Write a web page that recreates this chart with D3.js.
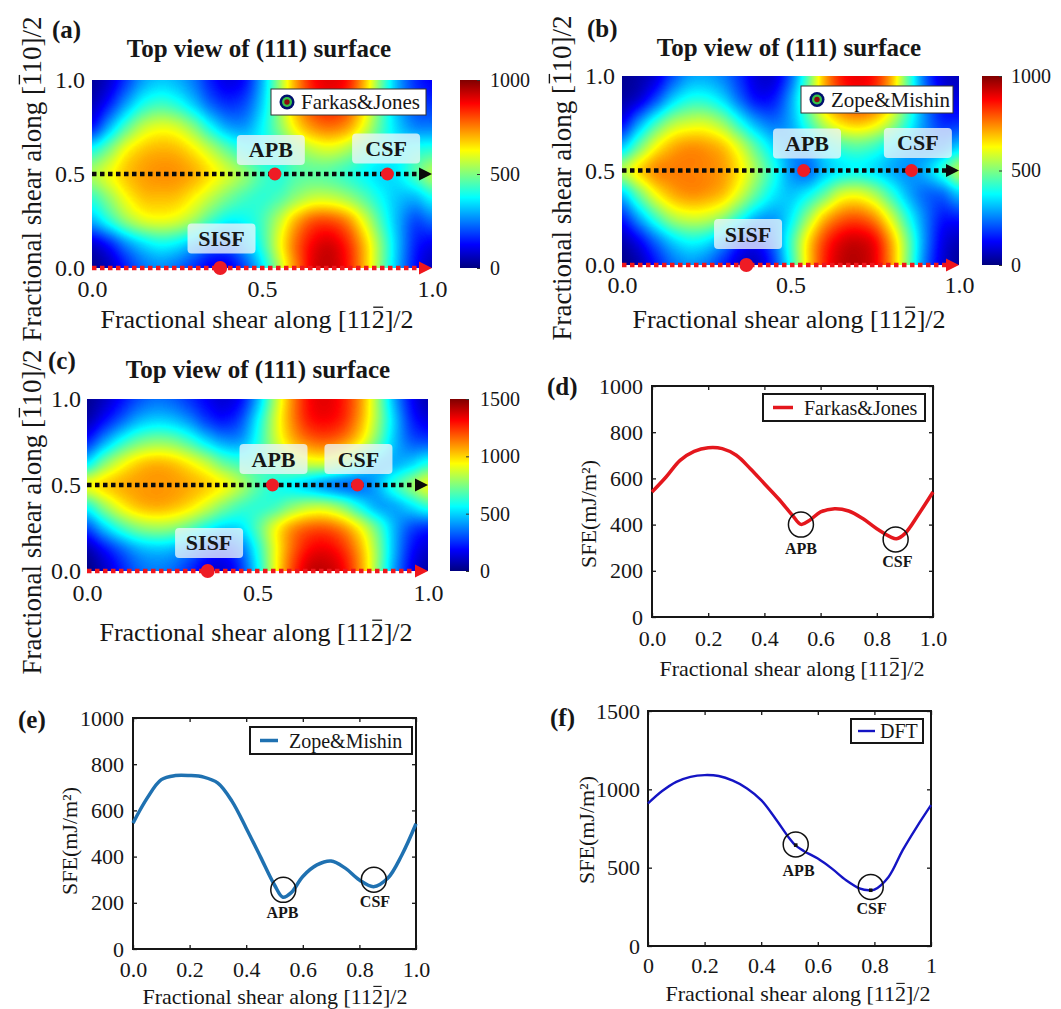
<!DOCTYPE html>
<html><head><meta charset="utf-8">
<script src="https://cdn.jsdelivr.net/npm/d3@7"></script>
<style>
body{margin:0;background:#fff}
svg{display:block}
text{font-family:"Liberation Serif","Times New Roman",serif;fill:#161616}
</style></head>
<body><svg id="fig" width="1061" height="1009"></svg>
<script>
// ---------------- DATA ----------------
const heatX = [0,0.05,0.1,0.15,0.2,0.25,0.3,0.35,0.4,0.45,0.5,0.55,0.6,0.65,0.7,0.75,0.8,0.85,0.9,0.95,1.0];
const heatY = [0,0.125,0.25,0.375,0.5,0.625,0.75,0.875,1.0]; // rows bottom -> top
const heatTicks = [0,0.5,1];

// (a) Farkas&Jones gamma surface (mJ/m^2), rows y=0 .. y=1
const gridFJ = [
 [20,60,150,230,260,230,170,110,110,200,350,550,750,900,930,860,700,500,300,140,60],
 [80,150,260,340,380,360,300,230,220,300,420,600,770,880,910,840,690,500,310,160,110],
 [300,400,510,580,600,580,520,430,370,380,440,560,700,790,800,740,600,440,300,200,230],
 [430,520,620,680,690,680,630,560,490,440,420,450,520,570,570,530,460,380,320,310,380],
 [541,606,678,717,733,729,700,642,577,512,440,411,455,469,459,426,382,346,361,447,541],
 [400,500,620,680,700,690,640,560,470,400,380,420,500,560,580,540,460,400,370,400,420],
 [150,300,450,560,600,580,500,380,290,280,370,500,640,730,760,720,600,450,330,260,250],
 [60,150,280,390,430,400,320,220,170,200,330,520,700,820,860,810,660,470,300,200,170],
 [30,80,180,280,320,300,240,150,100,140,300,520,720,860,900,860,700,480,290,170,120]
];
// (b) Zope&Mishin
const gridZM = [
 [10,50,140,230,270,240,160,80,70,180,400,650,840,930,945,890,720,480,240,90,30],
 [50,120,230,330,380,360,280,170,140,230,420,640,810,900,920,870,700,480,260,110,60],
 [160,290,430,540,580,570,510,400,300,280,360,520,680,770,790,730,580,400,250,150,150],
 [330,480,620,700,730,720,680,580,460,360,320,370,470,580,600,540,420,300,230,230,320],
 [545,653,733,751,751,744,718,639,523,400,277,234,314,364,381,350,299,270,306,407,542],
 [330,480,620,700,730,720,680,580,450,340,280,300,380,440,460,430,360,300,260,260,330],
 [130,280,430,540,580,580,520,400,290,240,290,420,560,650,680,640,540,400,260,170,170],
 [40,90,200,330,400,400,340,230,140,150,280,480,680,800,840,800,660,450,250,130,100],
 [20,40,90,200,280,290,250,170,90,90,220,450,700,850,890,850,700,450,220,90,60]
];
// (c) DFT
const gridDFT = [
 [10,100,220,330,370,340,250,150,130,260,550,900,1200,1380,1400,1320,1100,780,430,180,60],
 [80,200,330,440,480,460,380,280,240,340,600,900,1150,1300,1330,1250,1060,780,460,220,120],
 [300,480,640,750,790,770,690,580,500,520,680,900,1080,1170,1180,1100,930,700,460,300,250],
 [600,780,930,1020,1050,1030,970,870,750,660,630,660,760,830,830,740,580,450,440,520,620],
 [910,989,1048,1080,1091,1085,1055,1006,931,814,686,607,558,494,420,366,360,441,612,761,899],
 [550,750,900,1000,1040,1020,950,850,720,650,650,700,800,860,860,780,620,480,450,500,600],
 [250,430,600,720,770,750,660,530,430,430,600,830,1020,1130,1160,1100,950,720,480,330,300],
 [80,200,330,450,500,480,400,280,220,300,550,850,1100,1270,1310,1250,1070,800,500,250,150],
 [30,100,200,300,350,330,260,180,130,200,450,800,1100,1300,1350,1280,1100,800,450,200,80]
];
const cbTicksAB = [0,500,1000];
const cbTicksC = [0,500,1000,1500];

// fault markers on the gamma surfaces
const faultNames = ["APB","CSF","SISF"];
const faultYs = [0.5,0.5,0];
const faultXa = [0.538,0.869,0.377];
const faultXb = [0.539,0.859,0.369];
const faultXc = [0.544,0.793,0.354];

// line profiles along y = 0.5
const lineXTicks = [0,0.2,0.4,0.6,0.8,1];
const fjX = [0,0.05,0.1,0.15,0.2,0.25,0.3,0.35,0.4,0.45,0.5,0.53,0.56,0.6,0.65,0.7,0.75,0.8,0.85,0.87,0.9,0.95,1];
const fjY = [541,606,678,717,733,729,700,642,577,512,440,401,418,455,469,459,426,382,346,339,361,447,541];
const zmX = [0,0.05,0.1,0.15,0.2,0.25,0.3,0.35,0.4,0.45,0.5,0.53,0.56,0.6,0.65,0.7,0.75,0.8,0.85,0.9,0.95,1];
const zmY = [545,653,733,751,751,744,718,639,523,400,277,224,245,314,364,381,350,299,270,306,407,542];
const dftX = [0,0.05,0.1,0.15,0.2,0.25,0.3,0.35,0.4,0.45,0.5,0.52,0.55,0.6,0.65,0.7,0.75,0.78,0.8,0.85,0.9,0.95,1];
const dftY = [910,989,1048,1080,1091,1085,1055,1006,931,814,686,644,607,558,494,420,366,356,360,441,612,761,899];
const sfeTicks1000 = [0,200,400,600,800,1000];
const sfeTicks1500 = [0,500,1000,1500];
// circled points on the line plots
const annD = {names:["APB","CSF"], cx:[0.530,0.867], cy:[400,336], lx:[0.530,0.873], ly:[296,242]};
const annE = {names:["APB","CSF"], cx:[0.531,0.851], cy:[256,300], lx:[0.528,0.855], ly:[159,205]};
const annF = {names:["APB","CSF"], cx:[0.522,0.787], cy:[648,377], lx:[0.532,0.790], ly:[479,239], dx:[0.522,0.787], dy:[644,356]};

// ---------------- HELPERS ----------------
const svg = d3.select('#fig');
const INK = '#161616';
const jetDomain = [0,0.125,0.375,0.625,0.875,1];
const jetRange = ["#00007f","#0000ff","#00ffff","#ffff00","#ff0000","#7f0000"];
const jet = d3.scaleLinear().domain(jetDomain).range(jetRange).clamp(true);
const LUT = d3.range(256).map(i => { const c = d3.rgb(jet(i/255)); return [c.r,c.g,c.b]; });

function cr(p0,p1,p2,p3,t){ return p1 + 0.5*t*(p2-p0 + t*(2*p0-5*p1+4*p2-p3 + t*(3*(p1-p2)+p3-p0))); }
function sample(grid, fx, fy){
  const ny = grid.length, nx = grid[0].length;
  const ix = Math.min(nx-2, Math.floor(fx)), iy = Math.min(ny-2, Math.floor(fy));
  const tx = fx-ix, ty = fy-iy;
  const g = (j,i) => grid[Math.max(0,Math.min(ny-1,j))][Math.max(0,Math.min(nx-1,i))];
  const r = [];
  for (let m=-1;m<=2;m++) r.push(cr(g(iy+m,ix-1),g(iy+m,ix),g(iy+m,ix+1),g(iy+m,ix+2),tx));
  return cr(r[0],r[1],r[2],r[3],ty);
}
function txt(parent, s, x, y, size, opts={}){
  const t = parent.append('text').attr('x',x).attr('y',y).attr('font-size',size).text(s);
  if (opts.bold) t.attr('font-weight','bold');
  if (opts.anchor) t.attr('text-anchor',opts.anchor);
  return t;
}
function overline(parent, t, idx, size){
  const e = t.node().getExtentOfChar(idx);
  const bl = +t.attr('y');
  const yy = bl - 0.8*size;
  parent.append('line').attr('x1',e.x+e.width*0.12).attr('x2',e.x+e.width*0.88)
    .attr('y1',yy).attr('y2',yy).attr('stroke',INK).attr('stroke-width',Math.max(1,size*0.05));
}
function rotLabel(s, cx, baseX, size, barIdx){
  const g = svg.append('g').attr('transform',`translate(${baseX},${cx}) rotate(-90)`);
  const t = txt(g, s, 0, 0, size, {anchor:'middle'});
  if (barIdx != null) overline(g, t, barIdx, size);
  return g;
}
function xLabel(s, cx, base, size, barIdx){
  const t = txt(svg, s, cx, base, size, {anchor:'middle'});
  if (barIdx != null) overline(svg, t, barIdx, size);
}
const XLAB = "Fractional shear along [112]/2";   // bar over index 26
const YLAB = "Fractional shear along [110]/2";   // bar over index 24
const intFmt = d3.format('d');

// ---------------- HEATMAP PANELS ----------------
function heatPanel(p){
  const g = svg.append('g');
  const xs = d3.scaleLinear([0,1],[p.x0,p.x1]);
  const ys = d3.scaleLinear([0,1],[p.y1,p.y0]);
  const vs = d3.scaleLinear([0,p.vmax],[0,255]).clamp(true);
  const ix = d3.scaleLinear(d3.extent(heatX),[0,heatX.length-1]);
  const iy = d3.scaleLinear(d3.extent(heatY),[0,heatY.length-1]);
  const W = Math.round(p.x1-p.x0), H = Math.round(p.y1-p.y0);
  const cv = document.createElement('canvas'); cv.width=W; cv.height=H;
  const ctx = cv.getContext('2d'); const img = ctx.createImageData(W,H);
  for (let r=0;r<H;r++){
    const fy = iy(ys.invert(p.y0+r+0.5));
    for (let c=0;c<W;c++){
      const v = sample(p.grid, ix(xs.invert(p.x0+c+0.5)), fy);
      const col = LUT[Math.round(vs(v))]; const o=(r*W+c)*4;
      img.data[o]=col[0]; img.data[o+1]=col[1]; img.data[o+2]=col[2]; img.data[o+3]=255;
    }
  }
  ctx.putImageData(img,0,0);
  g.append('image').attr('x',p.x0).attr('y',p.y0).attr('width',W).attr('height',H)
    .attr('preserveAspectRatio','none').attr('href',cv.toDataURL());

  // axes tick labels
  const ya = g.append('g').attr('transform',`translate(${p.x0},0)`)
    .call(d3.axisLeft(ys).tickValues(heatTicks).tickFormat(d3.format('.1f')).tickSize(0).tickPadding(p.yPad));
  const xa = g.append('g').attr('transform',`translate(0,${p.y1})`)
    .call(d3.axisBottom(xs).tickValues(heatTicks).tickFormat(d3.format('.1f')).tickSize(0).tickPadding(p.xPad));
  [ya,xa].forEach(a=>{a.select('.domain').remove(); a.attr('font-family',null).attr('font-size',null);
    a.selectAll('text').attr('font-size',24).attr('fill',INK);});

  // dotted paths with arrows
  const dashLine = (yv, color) => {
    const yy = ys(yv);
    g.append('line').attr('x1',xs(0)).attr('x2',xs(1)-11).attr('y1',yy).attr('y2',yy)
      .attr('stroke',color).attr('stroke-width',4.5).attr('stroke-dasharray','4.5,3.5');
    g.append('path').attr('d',`M${xs(1)},${yy}L${xs(1)-13},${yy-6.5}L${xs(1)-13},${yy+6.5}Z`).attr('fill',color);
  };
  dashLine(0.5,'#0a0a0a');
  dashLine(0,'#f0161c');

  // label boxes
  faultNames.forEach((n,i)=>{
    const bx = xs(p.boxX[i]), by = ys(p.boxY[i]);
    g.append('rect').attr('x',bx-34).attr('y',by-15).attr('width',68).attr('height',30).attr('rx',4)
      .attr('fill','#eef6fa').attr('fill-opacity',0.78);
    txt(g, n, bx, by+7.5, 22, {bold:true, anchor:'middle'});
  });
  // fault points
  faultNames.forEach((n,i)=>{
    g.append('circle').attr('cx',xs(p.fx[i])).attr('cy',ys(faultYs[i])).attr('r', i==2?7:6.5).attr('fill','#ee1c25');
  });

  // legend
  if (p.legend){
    const L = p.legend;
    g.append('rect').attr('x',L.x).attr('y',L.y).attr('width',L.w).attr('height',L.h)
      .attr('fill','#fff').attr('stroke','#333').attr('stroke-width',1);
    const icx = L.x+16, icy = L.y+L.h/2;
    g.append('circle').attr('cx',icx).attr('cy',icy).attr('r',7.5).attr('fill','#00106e');
    g.append('circle').attr('cx',icx).attr('cy',icy).attr('r',5).attr('fill','#36c24a');
    g.append('circle').attr('cx',icx).attr('cy',icy).attr('r',2.7).attr('fill','#8a0d0d');
    txt(g, L.text, L.x+30, L.y+L.h/2+7, 21);
  }

  // colorbar
  const gid = 'jet'+p.id;
  const grad = svg.append('defs').append('linearGradient').attr('id',gid)
    .attr('x1',0).attr('y1',1).attr('x2',0).attr('y2',0);
  jetDomain.forEach((d,i)=>grad.append('stop').attr('offset',d).attr('stop-color',jetRange[i]));
  g.append('rect').attr('x',p.cb0).attr('y',p.y0).attr('width',p.cb1-p.cb0).attr('height',p.y1-p.y0)
    .attr('fill',`url(#${gid})`);
  const cs = d3.scaleLinear([0,p.vmax],[p.y1,p.y0]);
  const ca = g.append('g').attr('transform',`translate(${p.cb1},0)`)
    .call(d3.axisRight(cs).tickValues(p.cbTicks).tickFormat(intFmt).tickSizeInner(-3).tickSizeOuter(0).tickPadding(p.cbPad+3));
  ca.select('.domain').remove(); ca.attr('font-family',null).attr('font-size',null);
  ca.selectAll('line').attr('stroke','#333');
  ca.selectAll('text').attr('font-size',20).attr('fill',INK);

  // titles and labels
  txt(svg, p.tag, p.tagX, p.tagY, 25, {bold:true});
  txt(svg, "Top view of (111) surface", p.titleX, p.titleY, 25, {bold:true, anchor:'middle'});
  xLabel(XLAB, p.xlabX, p.xlabY, 26, 26);
  rotLabel(YLAB, p.ylabC, p.ylabX, 27, 24);
}

heatPanel({id:'a', grid:gridFJ, vmax:1000, x0:92, x1:432, y0:80, y1:268, cb0:460, cb1:480, cbTicks:cbTicksAB, cbPad:7,
  yPad:7, xPad:12, fx:faultXa, boxX:[0.526,0.865,0.381], boxY:[0.628,0.636,0.157],
  legend:{x:271,y:89,w:155,h:26,text:"Farkas&Jones"},
  tag:"(a)", tagX:52, tagY:38, titleX:259, titleY:57, xlabX:257, xlabY:328, ylabC:179, ylabX:41});
heatPanel({id:'b', grid:gridZM, vmax:1000, x0:622, x1:959, y0:76, y1:265, cb0:982, cb1:1002, cbTicks:cbTicksAB, cbPad:6,
  yPad:7, xPad:11, fx:faultXb, boxX:[0.549,0.878,0.374], boxY:[0.643,0.646,0.164],
  legend:{x:801,y:86,w:152,h:27,text:"Zope&Mishin"},
  tag:"(b)", tagX:587, tagY:37, titleX:789, titleY:56, xlabX:789, xlabY:328, ylabC:178, ylabX:571});
heatPanel({id:'c', grid:gridDFT, vmax:1500, x0:87, x1:428, y0:399, y1:571, cb0:450, cb1:469, cbTicks:cbTicksC, cbPad:8,
  yPad:6, xPad:13, fx:faultXc, boxX:[0.547,0.796,0.358], boxY:[0.651,0.651,0.163],
  legend:null,
  tag:"(c)", tagX:48, tagY:369, titleX:258, titleY:378, xlabX:256, xlabY:641, ylabC:512, ylabX:41});

// ---------------- LINE PANELS ----------------
function linePanel(p){
  const g = svg.append('g');
  const xs = d3.scaleLinear([0,1],[p.x0,p.x1]);
  const ys = d3.scaleLinear([0,p.ymax],[p.y1,p.y0]);
  const styleAxis = a => { a.select('.domain').remove(); a.attr('font-family',null).attr('font-size',null);
    a.selectAll('line').attr('stroke',INK).attr('stroke-width',1.3);
    a.selectAll('text').attr('font-size',22).attr('fill',INK); };
  styleAxis(g.append('g').attr('transform',`translate(0,${p.y1})`)
    .call(d3.axisBottom(xs).tickValues(lineXTicks).tickFormat(p.xfmt).tickSizeInner(-4).tickSizeOuter(0).tickPadding(p.xPad)));
  styleAxis(g.append('g').attr('transform',`translate(0,${p.y0})`)
    .call(d3.axisTop(xs).tickValues(lineXTicks).tickFormat('').tickSizeInner(-4).tickSizeOuter(0)));
  styleAxis(g.append('g').attr('transform',`translate(${p.x0},0)`)
    .call(d3.axisLeft(ys).tickValues(p.yt).tickFormat(intFmt).tickSizeInner(-4).tickSizeOuter(0).tickPadding(p.yPad)));
  styleAxis(g.append('g').attr('transform',`translate(${p.x1},0)`)
    .call(d3.axisRight(ys).tickValues(p.yt).tickFormat('').tickSizeInner(-4).tickSizeOuter(0)));
  g.append('rect').attr('x',p.x0).attr('y',p.y0).attr('width',p.x1-p.x0).attr('height',p.y1-p.y0)
    .attr('fill','none').attr('stroke',INK).attr('stroke-width',2);

  const line = d3.line().x((d,i)=>xs(p.xd[i])).y(d=>ys(d)).curve(d3.curveCatmullRom.alpha(0.5));
  g.append('path').attr('d',line(p.yd)).attr('fill','none').attr('stroke',p.color).attr('stroke-width',p.lw)
    .attr('stroke-linejoin','round');

  const A = p.ann;
  A.names.forEach((n,i)=>{
    g.append('circle').attr('cx',xs(A.cx[i])).attr('cy',ys(A.cy[i])).attr('r',12.5)
      .attr('fill','none').attr('stroke','#111').attr('stroke-width',1.5);
    txt(g, n, xs(A.lx[i]), ys(A.ly[i])+5.5, 16, {bold:true, anchor:'middle'});
    if (A.dx) g.append('rect').attr('x',xs(A.dx[i])-1.8).attr('y',ys(A.dy[i])-1.8).attr('width',3.6).attr('height',3.6).attr('fill','#111');
  });

  const L = p.legend;
  g.append('rect').attr('x',L.x).attr('y',L.y).attr('width',L.w).attr('height',L.h)
    .attr('fill','#fff').attr('stroke',INK).attr('stroke-width',2);
  g.append('line').attr('x1',L.x+L.s0).attr('x2',L.x+L.s1).attr('y1',L.y+L.h/2).attr('y2',L.y+L.h/2)
    .attr('stroke',p.color).attr('stroke-width',p.lw);
  txt(g, L.text, L.x+L.tx, L.y+L.h/2+7, 20);

  txt(svg, p.tag, p.tagX, p.tagY, 25, {bold:true});
  rotLabel("SFE(mJ/m\u00B2)", p.ylabC, p.ylabX, 22, null);
  xLabel(XLAB, p.xlabX, p.xlabY, 22, 26);
}

linePanel({x0:652, x1:933, y0:386, y1:617, ymax:1000, yt:sfeTicks1000, xfmt:d3.format('.1f'), xPad:13, yPad:9,
  xd:fjX, yd:fjY, color:'#e4171d', lw:3.5, ann:annD,
  legend:{x:763,y:394,w:162,h:27,s0:10,s1:30,tx:41,text:"Farkas&Jones"},
  tag:"(d)", tagX:547, tagY:395, ylabC:514, ylabX:596, xlabX:792, xlabY:676});
linePanel({x0:133, x1:416, y0:718, y1:949, ymax:1000, yt:sfeTicks1000, xfmt:d3.format('.1f'), xPad:12, yPad:9,
  xd:zmX, yd:zmY, color:'#1f71b1', lw:3.5, ann:annE,
  legend:{x:250,y:727,w:162,h:27,s0:10,s1:28,tx:39,text:"Zope&Mishin"},
  tag:"(e)", tagX:18, tagY:728, ylabC:841, ylabX:77, xlabX:275, xlabY:1004});
linePanel({x0:648, x1:931, y0:711, y1:946, ymax:1500, yt:sfeTicks1500, xfmt:d3.format('~g'), xPad:11, yPad:8,
  xd:dftX, yd:dftY, color:'#1414c4', lw:2.4, ann:annF,
  legend:{x:851,y:719,w:72,h:24,s0:7,s1:24,tx:29,text:"DFT"},
  tag:"(f)", tagX:550, tagY:726, ylabC:830, ylabX:594, xlabX:798, xlabY:1001});
</script></body></html>
